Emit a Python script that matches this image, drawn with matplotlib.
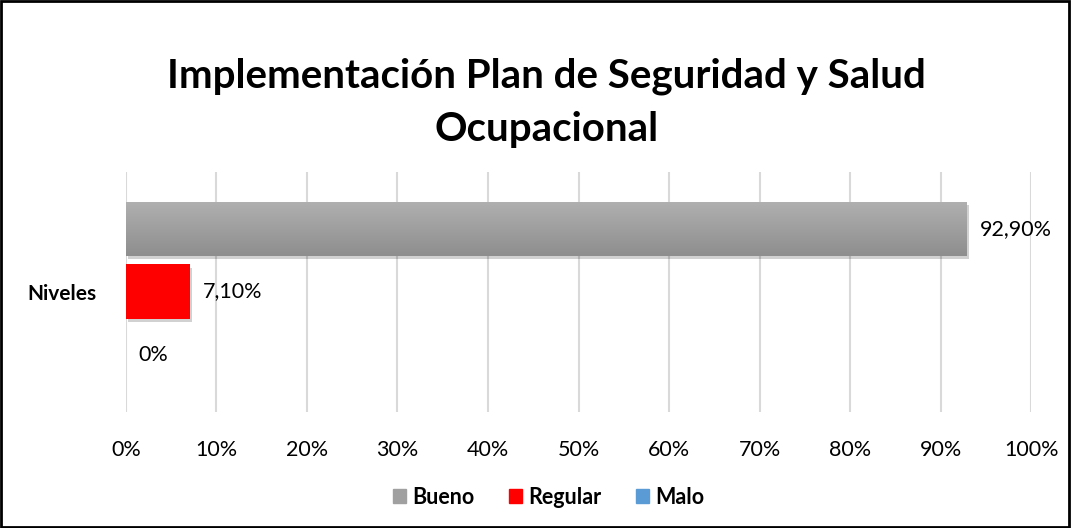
import numpy as np
import matplotlib.pyplot as plt
from matplotlib.patches import Rectangle
from matplotlib.colors import LinearSegmentedColormap

plt.rcParams['font.family'] = ['Lato', 'DejaVu Sans']

# Data
categories = ["Malo", "Regular", "Bueno"]
values = [0.0, 7.1, 92.9]
labels = ["0%", "7,10%", "92,90%"]
colors = ["#5b9bd5", "#ff0000", "#a0a0a0"]
xticks = [0, 10, 20, 30, 40, 50, 60, 70, 80, 90, 100]

fig = plt.figure(figsize=(10.71, 5.28), dpi=100)
ax = fig.add_axes([0.1176, 0.2197, 0.9627 - 0.1176, 0.674 - 0.2197])

pos = np.arange(len(categories))
h = 0.86

# shadows
for p, v in zip(pos, values):
    if v > 0:
        ax.add_patch(Rectangle((0.25, p - h / 2 - 0.05), v, h, color="#000000",
                               alpha=0.18, lw=0, zorder=2))

bars = ax.barh(pos, values, height=h, color=colors, zorder=3)

# gradient on the gray bar
grad = np.linspace(0, 1, 100).reshape(-1, 1)
cmap = LinearSegmentedColormap.from_list("g", ["#8e8e8e", "#b0b0b0"])
im = ax.imshow(grad, cmap=cmap, aspect="auto", origin="lower",
               extent=[0, values[2], pos[2] - h / 2, pos[2] + h / 2], zorder=3.5)
im.set_clip_path(bars[2])

for p, v, t in zip(pos, values, labels):
    ax.text(v + 1.4, p, t, va="center", ha="left", fontsize=15.5, color="#000000")

ax.set_xlim(0, 100)
ax.set_ylim(-0.913, 2.897)
ax.set_xticks(xticks)
ax.set_xticklabels([f"{t}%" for t in xticks], fontsize=15.5)
ax.set_yticks([1])
ax.set_yticklabels(["Niveles"], fontsize=15, fontweight="bold")
ax.tick_params(length=0)
ax.tick_params(axis="x", pad=20)
ax.tick_params(axis="y", pad=21)
ax.grid(axis="x", color="#d9d9d9", lw=1.5, zorder=0)
for s in ax.spines.values():
    s.set_visible(False)

fig.text(0.51, 0.805, "Implementación Plan de Seguridad y Salud\nOcupacional",
         ha="center", va="center", fontsize=29, fontweight="bold", linespacing=1.55)

# legend
handles = [Rectangle((0, 0), 1, 1, color=colors[2]),
           Rectangle((0, 0), 1, 1, color=colors[1]),
           Rectangle((0, 0), 1, 1, color=colors[0])]
fig.legend(handles, ["Bueno", "Regular", "Malo"], loc="center",
           bbox_to_anchor=(0.512, 0.058), ncol=3, frameon=False,
           prop={"weight": "bold", "size": 15.5}, handlelength=0.6,
           handleheight=0.6, handletextpad=0.3, columnspacing=1.6)

fig.add_artist(Rectangle((0.001, 0.001), 0.997, 0.997, transform=fig.transFigure,
                         fill=False, edgecolor="black", lw=2))

fig.savefig("out.png", dpi=100)
